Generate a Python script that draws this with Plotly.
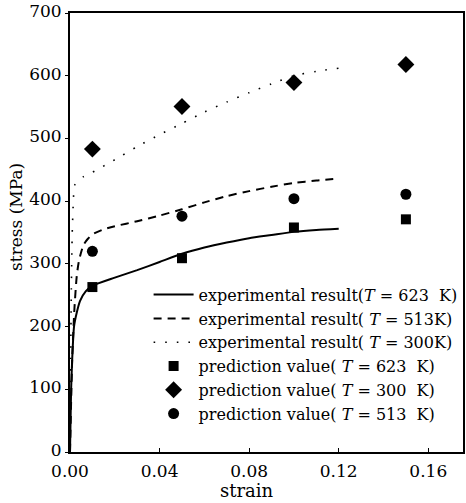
import plotly.graph_objects as go

# experimental curves
strain_623 = [0, 0.0005, 0.0010, 0.0018, 0.0030, 0.0045, 0.0070, 0.010, 0.020, 0.030, 0.040, 0.050,
              0.060, 0.070, 0.080, 0.090, 0.100, 0.110, 0.120]
stress_623 = [0, 100, 150, 200, 222, 241, 256, 265, 278, 290, 303, 316,
              326, 334, 341, 346, 351, 354, 356]

strain_513 = [0, 0.0010, 0.0020, 0.0030, 0.0040, 0.0060, 0.0080, 0.010, 0.015, 0.020, 0.030, 0.040,
              0.050, 0.060, 0.070, 0.080, 0.090, 0.100, 0.110, 0.120]
stress_513 = [0, 150, 230, 280, 305, 330, 340, 347, 355, 360, 368, 377,
              387, 398, 408, 416, 423, 429, 433, 436]

strain_300 = [0, 0.0003, 0.0006, 0.0010, 0.0015, 0.0020, 0.0040, 0.0060, 0.010, 0.020, 0.030, 0.040,
              0.050, 0.060, 0.070, 0.080, 0.090, 0.100, 0.110, 0.120]
stress_300 = [0, 150, 260, 350, 400, 425, 434, 439, 446, 466, 487, 506,
              524, 542, 558, 573, 587, 600, 607, 612]

# prediction values
pred_strain = [0.01, 0.05, 0.10, 0.15]
pred_623 = [263, 309, 358, 371]
pred_300 = [483, 551, 589, 618]
pred_513 = [320, 376, 404, 411]

x_ticks = [0.00, 0.04, 0.08, 0.12, 0.16]
x_tick_text = ["0.00", "0.04", "0.08", "0.12", "0.16"]
y_ticks = [0, 100, 200, 300, 400, 500, 600, 700]

names = [
    "experimental result(<i>T</i> = 623  K)",
    "experimental result( <i>T</i> = 513K)",
    "experimental result( <i>T</i> = 300K)",
    "prediction value( <i>T</i> = 623  K)",
    "prediction value( <i>T</i> = 300  K)",
    "prediction value( <i>T</i> = 513  K)",
]

FONT = "DejaVu Serif, serif"

fig = go.Figure()
fig.add_trace(go.Scatter(x=strain_623, y=stress_623, mode="lines", name=names[0],
                         line=dict(color="black", width=2, shape="spline", smoothing=0.6)))
fig.add_trace(go.Scatter(x=strain_513, y=stress_513, mode="lines", name=names[1],
                         line=dict(color="black", width=2, dash="8px,6px", shape="spline", smoothing=0.6)))
fig.add_trace(go.Scatter(x=strain_300, y=stress_300, mode="lines", name=names[2],
                         line=dict(color="black", width=1.6, dash="1.6px,10px", shape="spline", smoothing=0.6)))
fig.add_trace(go.Scatter(x=pred_strain, y=pred_623, mode="markers", name=names[3],
                         marker=dict(symbol="square", size=10, color="black")))
fig.add_trace(go.Scatter(x=pred_strain, y=pred_300, mode="markers", name=names[4],
                         marker=dict(symbol="diamond", size=13, color="black")))
fig.add_trace(go.Scatter(x=pred_strain, y=pred_513, mode="markers", name=names[5],
                         marker=dict(symbol="circle", size=11, color="black")))

fig.update_layout(
    width=466, height=503,
    margin=dict(l=70, r=1, t=10, b=51),
    paper_bgcolor="white", plot_bgcolor="white",
    font=dict(family=FONT, color="black", size=16),
    showlegend=True,
    legend=dict(x=0.2, y=0.397, xanchor="left", yanchor="top",
                bgcolor="rgba(0,0,0,0)", borderwidth=0,
                font=dict(family=FONT, size=16, color="black"),
                tracegroupgap=0, itemwidth=40),
    xaxis=dict(range=[0, 0.1755], tickvals=x_ticks, ticktext=x_tick_text,
               showgrid=False, zeroline=False,
               showline=True, linecolor="black", linewidth=2, mirror=True,
               ticks="inside", ticklen=4, tickcolor="black",
               ticklabelstandoff=3,
               tickfont=dict(family=FONT, size=17)),
    yaxis=dict(range=[0, 700], tickvals=y_ticks,
               showgrid=False, zeroline=False,
               showline=True, linecolor="black", linewidth=2, mirror=True,
               ticks="outside", ticklen=3, tickcolor="black",
               ticklabeloverflow="allow", ticklabelshift=-2,
               tickfont=dict(family=FONT, size=17)),
    annotations=[
        dict(text="strain", xref="paper", yref="paper", x=(248 - 70) / 395, y=-(491 - 452) / 442,
             xanchor="center", yanchor="middle", showarrow=False,
             font=dict(family=FONT, size=18)),
        dict(text="stress (MPa)", xref="paper", yref="paper", x=(15 - 70) / 395, y=(452 - 215) / 442,
             xanchor="center", yanchor="middle", showarrow=False, textangle=-90,
             font=dict(family=FONT, size=17)),
    ],
)

fig.write_html("out.html")
